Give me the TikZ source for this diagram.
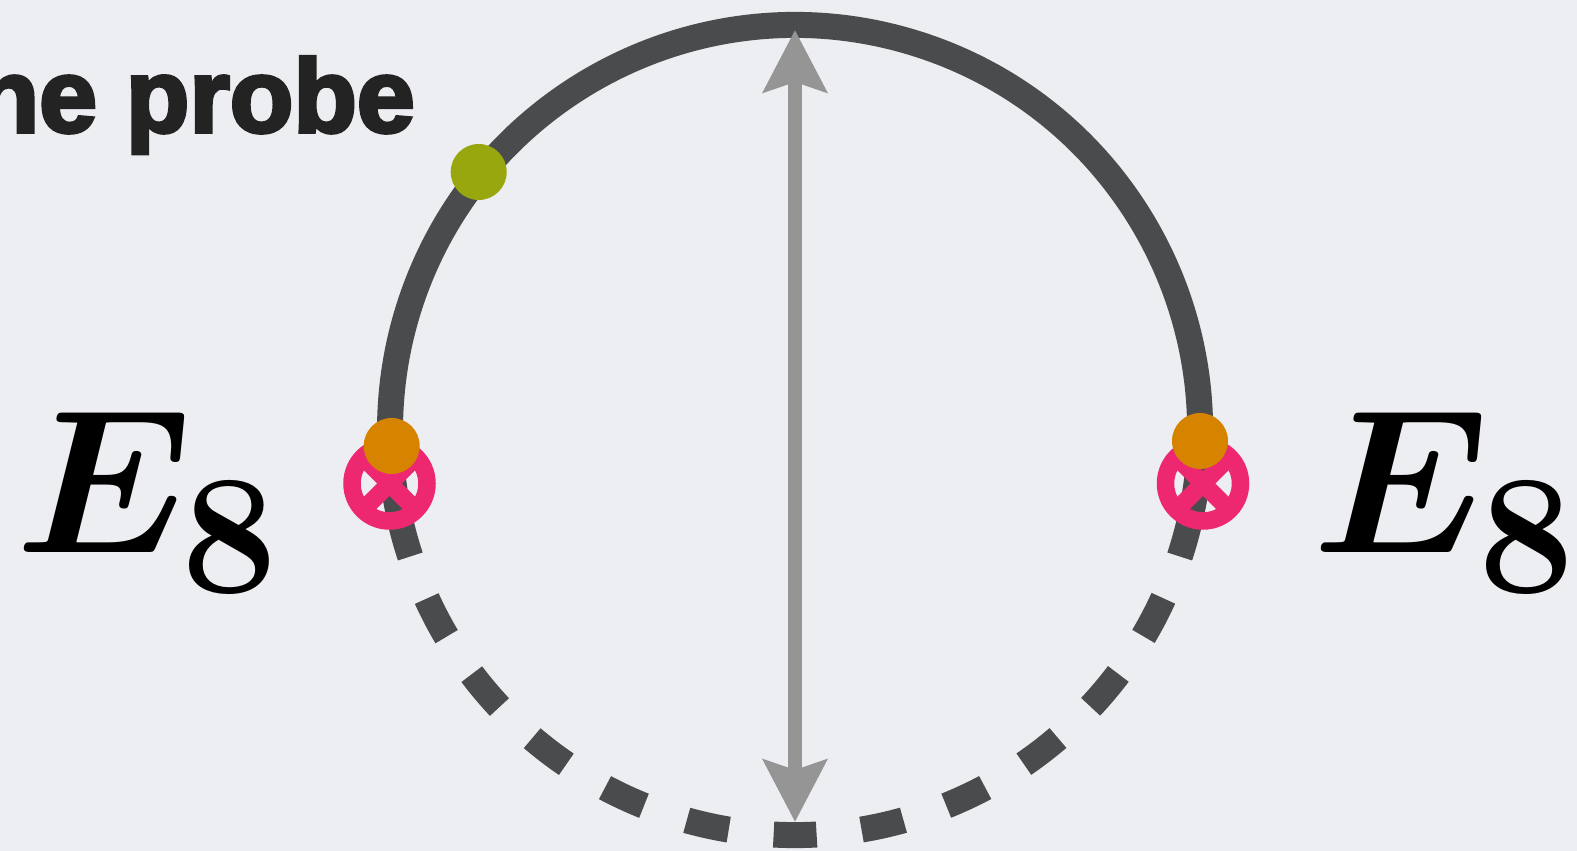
\documentclass[tikz,border=0pt]{standalone}
\usepackage{bm}
\usepackage[no-math]{fontspec}
\newfontfamily\probefont{Liberation Sans}[FakeBold=3.5]
\usetikzlibrary{arrows.meta}
\definecolor{bgcol}{HTML}{EDEEF1}
\definecolor{ringcol}{HTML}{4A4B4D}
\definecolor{arrowcol}{HTML}{959595}
\definecolor{pinkcol}{HTML}{EE2870}
\definecolor{orangecol}{HTML}{D68300}
\definecolor{greencol}{HTML}{99A70E}
\definecolor{textcol}{HTML}{232323}
\begin{document}
\begin{tikzpicture}[x=1pt, y=1pt,
        ring/.style={line width=26pt, ringcol},
        dashedring/.style={ring, dash pattern=on 43pt off 45.2pt, dash phase=43pt},
        brane/.style={line width=17.5pt, pinkcol},
        bigmath/.style={inner sep=0pt, font=\Huge, scale=8.24}]
                \fill[bgcol] (0,0) rectangle (1577,851);
                \useasboundingbox (0,0) rectangle (1577,851);
                \coordinate (C) at (795,421);
                \coordinate (north) at (795,821);
                \coordinate (south) at (795,29);
                % the circle
                \draw[ring] (C) ++(-18.2:405) arc[start angle=-18.2, end angle=198.2, radius=405];
                \draw[dashedring] (C) ++(198.2:405) arc[start angle=198.2, end angle=341.8, radius=405];
                \draw[arrowcol, line width=14pt, {Stealth[length=62pt, width=63pt, inset=10pt]}-{Stealth[length=62pt, width=63pt, inset=10pt]}]
                    (south) -- (north);
                % branes
                \coordinate (braneL) at (389.5,367.5);
                \coordinate (braneR) at (1203,367.5);
                \foreach \b in {braneL, braneR} {
                    \draw[brane] (\b) circle (37.5);
                    \draw[brane] (\b) ++(45:37.5) -- ++(225:75);
                    \draw[brane] (\b) ++(135:37.5) -- ++(315:75);
                }
                \fill[orangecol] (391.7,405) circle (28) coordinate (dotL);
                \fill[orangecol] (1200,410) circle (28) coordinate (dotR);
                \fill[greencol] (478.7,679) circle (28) coordinate (probe);
                \node[anchor=base east, inner sep=0pt, textcol, font=\probefont\bfseries\fontsize{104}{120}\selectfont]
                    (title) at (415,719) {the probe};
                \node[bigmath, anchor=base west] (e8L) at (14,298) {$\bm{E}_{\mathbf{8}}$};
                \node[bigmath, anchor=base west] (e8R) at (1311,298) {$\bm{E}_{\mathbf{8}}$};
            \end{tikzpicture}
\end{document}
